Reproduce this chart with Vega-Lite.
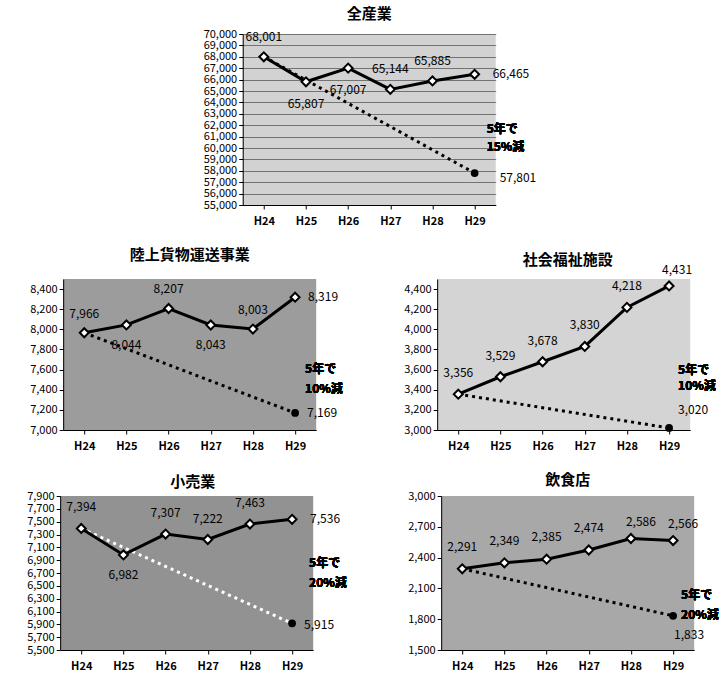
{
  "$schema": "https://vega.github.io/schema/vega-lite/v6.json",
  "padding": {"left": 26, "top": 7, "right": 5, "bottom": 5},
  "background": "white",
  "config": {
    "font": "Noto Sans CJK JP",
    "view": {"stroke": null},
    "title": {"font": "Noto Sans CJK JP", "fontSize": 15, "fontWeight": "bold", "color": "black"},
    "axis": {"labelFont": "Noto Sans CJK JP", "labelFontSize": 11, "labelColor": "black", "domainColor": "black", "tickColor": "black", "tickSize": 4, "grid": false, "labelOverlap": false, "labelPadding": 2},
    "axisX": {"labelAngle": 0, "labelFontWeight": "bold", "labelPadding": 6},
    "text": {"font": "Noto Sans CJK JP", "fontSize": 12, "color": "black"}
  },
  "vconcat": [
    {
      "title": {"text": "全産業", "offset": 6},
      "width": 253, "height": 171,
      "view": {"fill": "#d2d2d2", "stroke": null},
      "data": {"values": [
        {"year": "H24", "value": 68001, "s": "実績"},
        {"year": "H25", "value": 65807, "s": "実績"},
        {"year": "H26", "value": 67007, "s": "実績"},
        {"year": "H27", "value": 65144, "s": "実績"},
        {"year": "H28", "value": 65885, "s": "実績"},
        {"year": "H29", "value": 66465, "s": "実績"},
        {"year": "H24", "value": 68001, "s": "目標"},
        {"year": "H29", "value": 57801, "s": "目標"}
      ]},
      "encoding": {
        "x": {"field": "year", "type": "ordinal", "title": null, "scale": {"type": "point", "padding": 0.5}},
        "y": {"field": "value", "type": "quantitative", "title": null, "scale": {"domain": [55000, 70000], "nice": false, "zero": false},
              "axis": {"values": [55000,56000,57000,58000,59000,60000,61000,62000,63000,64000,65000,66000,67000,68000,69000,70000], "format": ",d", "grid": true, "gridColor": "#333333", "gridWidth": 1, "gridOpacity": 0.6}}
      },
      "layer": [
        {"transform": [{"filter": "datum.s == '目標'"}], "mark": {"type": "line", "strokeDash": [3, 4], "strokeWidth": 3, "color": "black"}},
        {"transform": [{"filter": "datum.s == '目標' && datum.year == 'H29'"}], "mark": {"type": "point", "shape": "circle", "filled": true, "color": "black", "size": 60, "opacity": 1}},
        {"transform": [{"filter": "datum.s == '実績'"}], "mark": {"type": "line", "strokeWidth": 3, "color": "black"}},
        {"transform": [{"filter": "datum.s == '実績'"}], "mark": {"type": "point", "shape": "diamond", "filled": true, "fill": "white", "stroke": "black", "strokeWidth": 2, "size": 80, "opacity": 1}},
        {"transform": [{"filter": "datum.s == '実績' && indexof(['H24','H27','H28'], datum.year) >= 0"}], "mark": {"type": "text", "dy": -20}, "encoding": {"text": {"field": "value", "format": ",d"}}},
        {"transform": [{"filter": "datum.s == '実績' && indexof(['H25','H26'], datum.year) >= 0"}], "mark": {"type": "text", "dy": 22}, "encoding": {"text": {"field": "value", "format": ",d"}}},
        {"transform": [{"filter": "datum.s == '実績' && datum.year == 'H29'"}], "mark": {"type": "text", "align": "left", "dx": 18}, "encoding": {"text": {"field": "value", "format": ",d"}}},
        {"transform": [{"filter": "datum.s == '目標' && datum.year == 'H29'"}], "mark": {"type": "text", "align": "left", "dx": 25, "dy": 5}, "encoding": {"text": {"field": "value", "format": ",d"}}},
        {"mark": {"type": "text", "text": ["5年で", "15%減"], "align": "left", "dx": 12, "fontWeight": "bold", "lineHeight": 18}, "encoding": {"x": {"datum": "H29"}, "y": {"datum": 61700}}}
      ]
    },
    {
      "hconcat": [
        {
          "title": {"text": "陸上貨物運送事業", "offset": 16},
          "width": 253, "height": 151,
          "view": {"fill": "#9c9c9c", "stroke": null},
          "data": {"values": [
            {"year": "H24", "value": 7966, "s": "実績"},
            {"year": "H25", "value": 8044, "s": "実績"},
            {"year": "H26", "value": 8207, "s": "実績"},
            {"year": "H27", "value": 8043, "s": "実績"},
            {"year": "H28", "value": 8003, "s": "実績"},
            {"year": "H29", "value": 8319, "s": "実績"},
            {"year": "H24", "value": 7966, "s": "目標"},
            {"year": "H29", "value": 7169, "s": "目標"}
          ]},
          "encoding": {
            "x": {"field": "year", "type": "ordinal", "title": null, "scale": {"type": "point", "padding": 0.5}},
            "y": {"field": "value", "type": "quantitative", "title": null, "scale": {"domain": [7000, 8500], "nice": false, "zero": false},
                  "axis": {"values": [7000,7200,7400,7600,7800,8000,8200,8400], "format": ",d"}}
          },
          "layer": [
            {"transform": [{"filter": "datum.s == '目標'"}], "mark": {"type": "line", "strokeDash": [3, 4], "strokeWidth": 3, "color": "black"}},
            {"transform": [{"filter": "datum.s == '目標' && datum.year == 'H29'"}], "mark": {"type": "point", "shape": "circle", "filled": true, "color": "black", "size": 60, "opacity": 1}},
            {"transform": [{"filter": "datum.s == '実績'"}], "mark": {"type": "line", "strokeWidth": 3, "color": "black"}},
            {"transform": [{"filter": "datum.s == '実績'"}], "mark": {"type": "point", "shape": "diamond", "filled": true, "fill": "white", "stroke": "black", "strokeWidth": 2, "size": 80, "opacity": 1}},
            {"transform": [{"filter": "datum.s == '実績' && indexof(['H24','H26','H28'], datum.year) >= 0"}], "mark": {"type": "text", "dy": -19}, "encoding": {"text": {"field": "value", "format": ",d"}}},
            {"transform": [{"filter": "datum.s == '実績' && indexof(['H25','H27'], datum.year) >= 0"}], "mark": {"type": "text", "dy": 20}, "encoding": {"text": {"field": "value", "format": ",d"}}},
            {"transform": [{"filter": "datum.s == '実績' && datum.year == 'H29'"}], "mark": {"type": "text", "align": "left", "dx": 13}, "encoding": {"text": {"field": "value", "format": ",d"}}},
            {"transform": [{"filter": "datum.s == '目標' && datum.year == 'H29'"}], "mark": {"type": "text", "align": "left", "dx": 12}, "encoding": {"text": {"field": "value", "format": ",d"}}},
            {"mark": {"type": "text", "text": ["5年で", "10%減"], "align": "left", "dx": 10, "fontWeight": "bold", "lineHeight": 20}, "encoding": {"x": {"datum": "H29"}, "y": {"datum": 7606}}}
          ]
        },
        {
          "title": {"text": "社会福祉施設", "offset": -4, "dx": 4},
          "width": 253, "height": 151,
          "view": {"fill": "#d4d4d4", "stroke": null},
          "data": {"values": [
            {"year": "H24", "value": 3356, "s": "実績"},
            {"year": "H25", "value": 3529, "s": "実績"},
            {"year": "H26", "value": 3678, "s": "実績"},
            {"year": "H27", "value": 3830, "s": "実績"},
            {"year": "H28", "value": 4218, "s": "実績"},
            {"year": "H29", "value": 4431, "s": "実績"},
            {"year": "H24", "value": 3356, "s": "目標"},
            {"year": "H29", "value": 3020, "s": "目標"}
          ]},
          "encoding": {
            "x": {"field": "year", "type": "ordinal", "title": null, "scale": {"type": "point", "padding": 0.5}},
            "y": {"field": "value", "type": "quantitative", "title": null, "scale": {"domain": [3000, 4500], "nice": false, "zero": false},
                  "axis": {"values": [3000,3200,3400,3600,3800,4000,4200,4400], "format": ",d"}}
          },
          "layer": [
            {"transform": [{"filter": "datum.s == '目標'"}], "mark": {"type": "line", "strokeDash": [3, 4], "strokeWidth": 3, "color": "black"}},
            {"transform": [{"filter": "datum.s == '目標' && datum.year == 'H29'"}], "mark": {"type": "point", "shape": "circle", "filled": true, "color": "black", "size": 60, "opacity": 1}},
            {"transform": [{"filter": "datum.s == '実績'"}], "mark": {"type": "line", "strokeWidth": 3, "color": "black"}},
            {"transform": [{"filter": "datum.s == '実績'"}], "mark": {"type": "point", "shape": "diamond", "filled": true, "fill": "white", "stroke": "black", "strokeWidth": 2, "size": 80, "opacity": 1}},
            {"transform": [{"filter": "datum.s == '実績' && datum.year != 'H29'"}], "mark": {"type": "text", "dy": -21}, "encoding": {"text": {"field": "value", "format": ",d"}}},
            {"transform": [{"filter": "datum.s == '実績' && datum.year == 'H29'"}], "mark": {"type": "text", "dy": -16, "dx": 8}, "encoding": {"text": {"field": "value", "format": ",d"}}},
            {"transform": [{"filter": "datum.s == '目標' && datum.year == 'H29'"}], "mark": {"type": "text", "align": "left", "dx": 9, "dy": -18}, "encoding": {"text": {"field": "value", "format": ",d"}}},
            {"mark": {"type": "text", "text": ["5年で", "10%減"], "align": "left", "dx": 9, "fontWeight": "bold", "lineHeight": 16}, "encoding": {"x": {"datum": "H29"}, "y": {"datum": 3600}}}
          ]
        }
      ],
      "spacing": 60
    },
    {
      "hconcat": [
        {
          "title": {"text": "小売業", "offset": 0, "dx": 6},
          "width": 253, "height": 154,
          "view": {"fill": "#929292", "stroke": null},
          "data": {"values": [
            {"year": "H24", "value": 7394, "s": "実績"},
            {"year": "H25", "value": 6982, "s": "実績"},
            {"year": "H26", "value": 7307, "s": "実績"},
            {"year": "H27", "value": 7222, "s": "実績"},
            {"year": "H28", "value": 7463, "s": "実績"},
            {"year": "H29", "value": 7536, "s": "実績"},
            {"year": "H24", "value": 7394, "s": "目標"},
            {"year": "H29", "value": 5915, "s": "目標"}
          ]},
          "encoding": {
            "x": {"field": "year", "type": "ordinal", "title": null, "scale": {"type": "point", "padding": 0.5}},
            "y": {"field": "value", "type": "quantitative", "title": null, "scale": {"domain": [5500, 7900], "nice": false, "zero": false},
                  "axis": {"values": [5500,5700,5900,6100,6300,6500,6700,6900,7100,7300,7500,7700,7900], "format": ",d"}}
          },
          "layer": [
            {"transform": [{"filter": "datum.s == '目標'"}], "mark": {"type": "line", "strokeDash": [3, 4], "strokeWidth": 3, "color": "white"}},
            {"transform": [{"filter": "datum.s == '目標' && datum.year == 'H29'"}], "mark": {"type": "point", "shape": "circle", "filled": true, "color": "black", "size": 60, "opacity": 1}},
            {"transform": [{"filter": "datum.s == '実績'"}], "mark": {"type": "line", "strokeWidth": 3, "color": "black"}},
            {"transform": [{"filter": "datum.s == '実績'"}], "mark": {"type": "point", "shape": "diamond", "filled": true, "fill": "white", "stroke": "black", "strokeWidth": 2, "size": 80, "opacity": 1}},
            {"transform": [{"filter": "datum.s == '実績' && indexof(['H24','H26','H27','H28'], datum.year) >= 0"}], "mark": {"type": "text", "dy": -21}, "encoding": {"text": {"field": "value", "format": ",d"}}},
            {"transform": [{"filter": "datum.s == '実績' && datum.year == 'H25'"}], "mark": {"type": "text", "dy": 20}, "encoding": {"text": {"field": "value", "format": ",d"}}},
            {"transform": [{"filter": "datum.s == '実績' && datum.year == 'H29'"}], "mark": {"type": "text", "align": "left", "dx": 18}, "encoding": {"text": {"field": "value", "format": ",d"}}},
            {"transform": [{"filter": "datum.s == '目標' && datum.year == 'H29'"}], "mark": {"type": "text", "align": "left", "dx": 12, "dy": 2}, "encoding": {"text": {"field": "value", "format": ",d"}}},
            {"mark": {"type": "text", "text": ["5年で", "20%減"], "align": "left", "dx": 17, "fontWeight": "bold", "lineHeight": 20}, "encoding": {"x": {"datum": "H29"}, "y": {"datum": 6855}}}
          ]
        },
        {
          "title": {"text": "飲食店", "offset": 2},
          "width": 253, "height": 154,
          "view": {"fill": "#a8a8a8", "stroke": null},
          "data": {"values": [
            {"year": "H24", "value": 2291, "s": "実績"},
            {"year": "H25", "value": 2349, "s": "実績"},
            {"year": "H26", "value": 2385, "s": "実績"},
            {"year": "H27", "value": 2474, "s": "実績"},
            {"year": "H28", "value": 2586, "s": "実績"},
            {"year": "H29", "value": 2566, "s": "実績"},
            {"year": "H24", "value": 2291, "s": "目標"},
            {"year": "H29", "value": 1833, "s": "目標"}
          ]},
          "encoding": {
            "x": {"field": "year", "type": "ordinal", "title": null, "scale": {"type": "point", "padding": 0.5}},
            "y": {"field": "value", "type": "quantitative", "title": null, "scale": {"domain": [1500, 3000], "nice": false, "zero": false},
                  "axis": {"values": [1500,1800,2100,2400,2700,3000], "format": ",d"}}
          },
          "layer": [
            {"transform": [{"filter": "datum.s == '目標'"}], "mark": {"type": "line", "strokeDash": [3, 4], "strokeWidth": 3, "color": "black"}},
            {"transform": [{"filter": "datum.s == '目標' && datum.year == 'H29'"}], "mark": {"type": "point", "shape": "circle", "filled": true, "color": "black", "size": 60, "opacity": 1}},
            {"transform": [{"filter": "datum.s == '実績'"}], "mark": {"type": "line", "strokeWidth": 3, "color": "black"}},
            {"transform": [{"filter": "datum.s == '実績'"}], "mark": {"type": "point", "shape": "diamond", "filled": true, "fill": "white", "stroke": "black", "strokeWidth": 2, "size": 80, "opacity": 1}},
            {"transform": [{"filter": "datum.s == '実績' && indexof(['H24','H25','H26','H27'], datum.year) >= 0"}], "mark": {"type": "text", "dy": -22}, "encoding": {"text": {"field": "value", "format": ",d"}}},
            {"transform": [{"filter": "datum.s == '実績' && indexof(['H28','H29'], datum.year) >= 0"}], "mark": {"type": "text", "dy": -17, "dx": 10}, "encoding": {"text": {"field": "value", "format": ",d"}}},
            {"transform": [{"filter": "datum.s == '目標' && datum.year == 'H29'"}], "mark": {"type": "text", "dx": 16, "dy": 19}, "encoding": {"text": {"field": "value", "format": ",d"}}},
            {"mark": {"type": "text", "text": ["5年で", "20%減"], "align": "left", "dx": 8, "fontWeight": "bold", "lineHeight": 20}, "encoding": {"x": {"datum": "H29"}, "y": {"datum": 2036}}}
          ]
        }
      ],
      "spacing": 60
    }
  ],
  "spacing": 22,
  "center": true
}
